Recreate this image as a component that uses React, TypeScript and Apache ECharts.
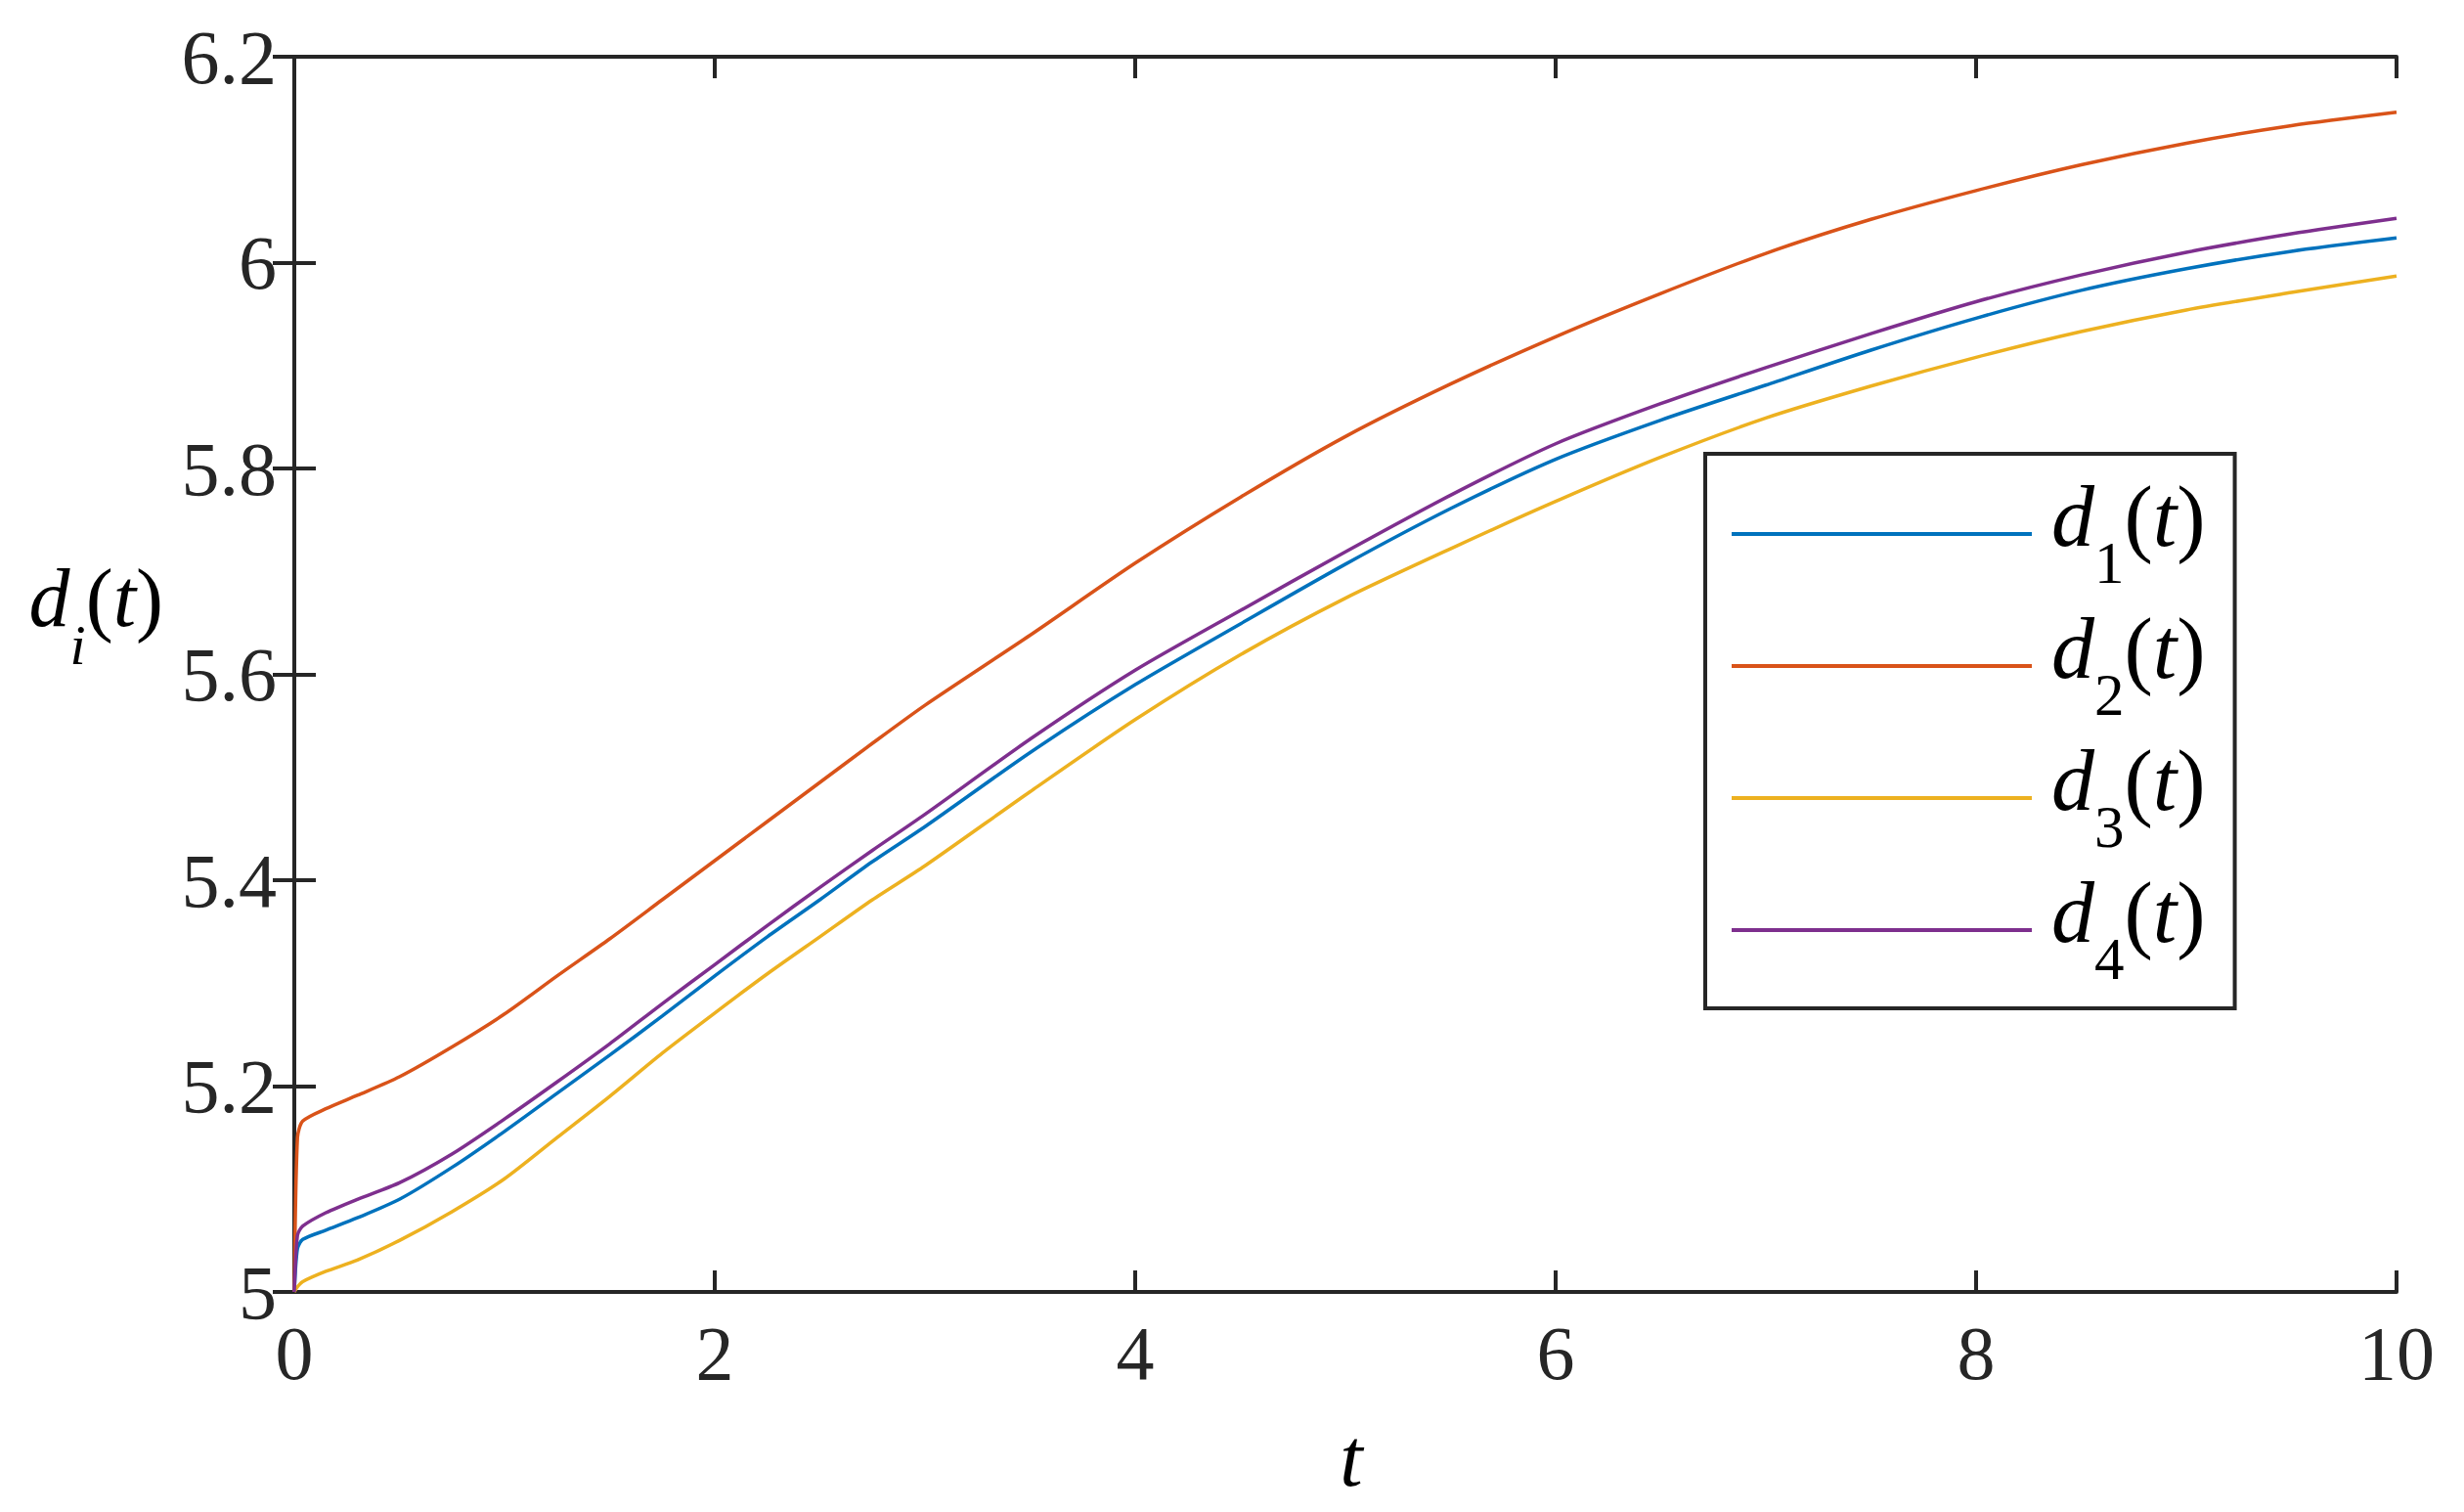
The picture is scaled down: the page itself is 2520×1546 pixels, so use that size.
import React, { useEffect, useRef } from 'react';
import * as echarts from 'echarts';

// time samples (t)
const tValues = [0, 0.015, 0.04, 0.15, 0.3, 0.5, 0.75, 1, 1.25, 1.5, 1.75, 2, 2.25, 2.5, 2.75, 3, 3.5, 4, 4.5, 5, 5.5, 6, 6.5, 7, 7.5, 8, 8.5, 9, 9.5, 10];

const d1Values = [5.0, 5.042, 5.051, 5.06, 5.072, 5.09, 5.121, 5.156, 5.193, 5.23, 5.268, 5.307, 5.345, 5.381, 5.418, 5.452, 5.524, 5.59, 5.649, 5.707, 5.761, 5.809, 5.847, 5.881, 5.915, 5.946, 5.973, 5.994, 6.011, 6.024];
const d2Values = [5.0, 5.15, 5.166, 5.178, 5.191, 5.209, 5.238, 5.27, 5.307, 5.343, 5.381, 5.419, 5.457, 5.495, 5.533, 5.57, 5.638, 5.708, 5.772, 5.831, 5.882, 5.928, 5.97, 6.009, 6.042, 6.07, 6.095, 6.116, 6.133, 6.146];
const d3Values = [5.0, 5.005, 5.01, 5.02, 5.031, 5.05, 5.078, 5.11, 5.15, 5.19, 5.232, 5.271, 5.309, 5.345, 5.381, 5.414, 5.486, 5.556, 5.619, 5.674, 5.722, 5.768, 5.811, 5.849, 5.88, 5.908, 5.933, 5.954, 5.971, 5.987];
const d4Values = [5.0, 5.055, 5.064, 5.077, 5.09, 5.106, 5.134, 5.168, 5.204, 5.241, 5.28, 5.318, 5.356, 5.393, 5.429, 5.464, 5.537, 5.604, 5.662, 5.719, 5.774, 5.824, 5.863, 5.898, 5.931, 5.962, 5.988, 6.01, 6.028, 6.043];

const seriesNames = ['d1(t)', 'd2(t)', 'd3(t)', 'd4(t)'];
const seriesSubscripts = ['1', '2', '3', '4'];
const seriesColors = ['#0072BD', '#D95319', '#EDB120', '#7E2F8E'];
const allValues = [d1Values, d2Values, d3Values, d4Values];

const xTicks = [0, 2, 4, 6, 8, 10];
const yTicks = [5, 5.2, 5.4, 5.6, 5.8, 6, 6.2];

const SERIF = "'Liberation Serif', 'Times New Roman', serif";
const AXIS_COLOR = '#262626';

export default function App() {
  const ref = useRef<HTMLDivElement | null>(null);

  useEffect(() => {
    if (!ref.current) return;
    const chart = echarts.init(ref.current, undefined, { renderer: 'svg' });

    const xMin = xTicks[0];
    const xMax = xTicks[xTicks.length - 1];
    const xInterval = xTicks[1] - xTicks[0];
    const yMin = yTicks[0];
    const yMax = yTicks[yTicks.length - 1];
    const yInterval = 0.2;

    const axisLineStyle = { color: AXIS_COLOR, width: 4 };
    const tickCommon = { show: true, inside: true, length: 22, lineStyle: { color: AXIS_COLOR, width: 4 } };

    const series = allValues.map((vals, i) => ({
      name: seriesNames[i],
      type: 'line',
      xAxisIndex: 0,
      yAxisIndex: 0,
      data: tValues.map((t, k) => [t, vals[k]]),
      symbol: 'none',
      showSymbol: false,
      smooth: 0.25,
      lineStyle: { color: seriesColors[i], width: 3.5 },
      itemStyle: { color: seriesColors[i] },
      z: 2 + i,
    }));

    const legendRich = {
      d: { fontFamily: SERIF, fontStyle: 'italic', fontSize: 88, lineHeight: 90, color: '#000', padding: [0, 0, 36, 15] },
      s: { fontFamily: SERIF, fontSize: 61, lineHeight: 90, color: '#000', padding: [58, 0, 0, 0] },
      p: { fontFamily: SERIF, fontSize: 88, lineHeight: 90, color: '#000', padding: [0, 0, 36, 0] },
      t: { fontFamily: SERIF, fontStyle: 'italic', fontSize: 88, lineHeight: 90, color: '#000', padding: [0, 0, 36, 0] },
    };

    const yNameRich = {
      d: { fontFamily: SERIF, fontStyle: 'italic', fontSize: 84, lineHeight: 90, color: '#000' },
      s: { fontFamily: SERIF, fontStyle: 'italic', fontSize: 58, lineHeight: 90, color: '#000', padding: [96, 0, 0, 0] },
      p: { fontFamily: SERIF, fontSize: 84, lineHeight: 90, color: '#000' },
      t: { fontFamily: SERIF, fontStyle: 'italic', fontSize: 84, lineHeight: 90, color: '#000' },
    };

    chart.setOption({
      animation: false,
      backgroundColor: '#ffffff',
      grid: { left: 301, right: 69, top: 58, bottom: 225, containLabel: false, outerBoundsMode: 'none' },
      xAxis: [
        {
          type: 'value',
          min: xMin,
          max: xMax,
          interval: xInterval,
          position: 'bottom',
          name: 't',
          nameLocation: 'middle',
          nameGap: 127,
          nameTextStyle: { fontFamily: SERIF, fontStyle: 'italic', fontSize: 84, color: '#000', padding: [0, 0, 0, 12] },
          axisLine: { show: true, lineStyle: axisLineStyle },
          axisTick: tickCommon,
          axisLabel: { show: true, fontFamily: SERIF, fontSize: 78, color: AXIS_COLOR, margin: 23 },
          splitLine: { show: false },
        },
        {
          type: 'value',
          min: xMin,
          max: xMax,
          interval: xInterval,
          position: 'top',
          axisLine: { show: true, lineStyle: axisLineStyle },
          axisTick: tickCommon,
          axisLabel: { show: false },
          splitLine: { show: false },
        },
      ],
      yAxis: [
        {
          type: 'value',
          min: yMin,
          max: yMax,
          interval: yInterval,
          position: 'left',
          name: '{d|d}{s|i}{p|(}{t|t}{p|)}',
          nameLocation: 'middle',
          nameRotate: 0,
          nameGap: 134,
          nameTextStyle: { padding: [0, 0, 156, 0], rich: yNameRich },
          axisLine: { show: true, lineStyle: axisLineStyle },
          axisTick: tickCommon,
          axisLabel: { show: true, fontFamily: SERIF, fontSize: 78, color: AXIS_COLOR, margin: 18 },
          splitLine: { show: false },
        },
        {
          type: 'value',
          min: yMin,
          max: yMax,
          interval: yInterval,
          position: 'right',
          axisLine: { show: true, lineStyle: axisLineStyle },
          axisTick: tickCommon,
          axisLabel: { show: false },
          splitLine: { show: false },
        },
      ],
      legend: {
        orient: 'vertical',
        left: 1744,
        top: 464,
        icon: 'rect',
        itemWidth: 307,
        itemHeight: 4,
        itemGap: 11,
        padding: [20, 30, 18, 27],
        borderColor: AXIS_COLOR,
        borderWidth: 4,
        backgroundColor: '#ffffff',
        selectedMode: false,
        data: seriesNames,
        formatter: (name: string) => {
          const idx = seriesNames.indexOf(name);
          return `{d|d}{s|${seriesSubscripts[idx]}}{p|(}{t|t}{p|)}`;
        },
        textStyle: { rich: legendRich },
      },
      series,
    });

    return () => {
      chart.dispose();
    };
  }, []);

  return (
    <div
      ref={ref}
      style={{ position: 'absolute', left: 0, top: 0, width: 2520, height: 1546, background: '#fff' }}
    />
  );
}
